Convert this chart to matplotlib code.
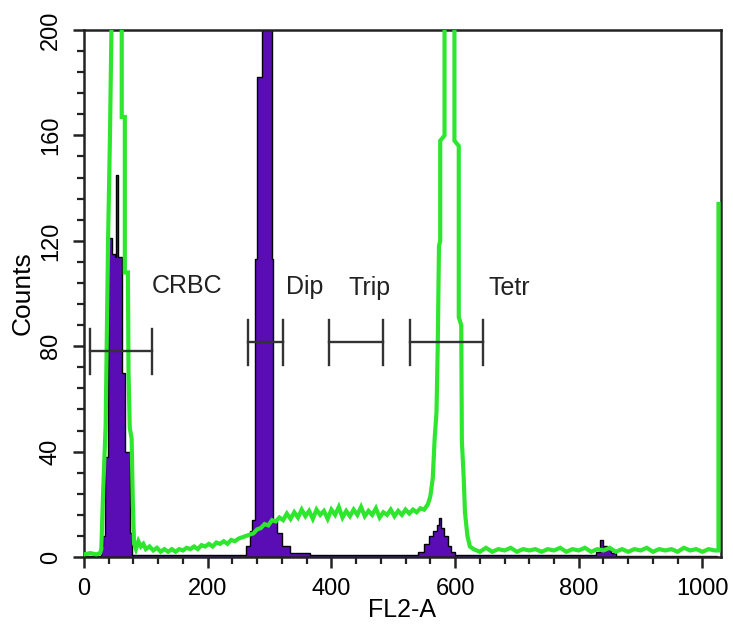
import matplotlib
matplotlib.use("Agg")
import matplotlib.pyplot as plt
from matplotlib.ticker import MultipleLocator

plt.rcParams['font.family'] = ['Liberation Sans', 'DejaVu Sans']

# ---- purple (control) histogram: bin edges and counts ----
purple_edges = [0, 27, 30, 34, 39, 45, 50, 52.5, 54.5, 61, 66, 74, 78,
                262, 268, 272, 276, 280, 288, 303.5, 306, 312, 320, 333, 365,
                540, 550, 558, 564, 570, 574, 577, 582, 588, 594, 600,
                828, 834, 840, 846, 852, 860, 1023]
purple_counts = [0.5, 4, 8, 38, 121, 115, 114, 145, 114, 70, 40, 9, 0.6,
                 4, 10, 14, 113, 182, 240, 113, 14, 9, 4, 1.5, 0.6,
                 2, 5, 8, 10, 12, 15, 11, 8, 4, 2, 0.6,
                 2, 6.5, 4, 3, 1.5, 0.5]

# ---- green (treated) histogram outline ----
green_x = [0, 10, 20, 26, 28, 31, 35, 39, 42, 45, 47, 55, 61, 61, 66, 66, 71, 72, 74, 77, 79, 81,
           84, 88, 92, 96, 100, 106, 112, 118, 124, 130, 136, 142, 148, 154, 160, 166, 172, 178,
           184, 190, 196, 202, 208, 214, 220, 226, 232, 238, 244, 250, 256, 262, 268, 274, 280,
           286, 292, 298, 304, 310, 316, 322, 328, 334, 340, 346, 352, 358, 364, 370, 376, 382,
           388, 394, 400, 406, 412, 418, 424, 430, 436, 442, 448, 454, 460, 466, 472, 478, 484,
           490, 496, 502, 508, 514, 520, 526, 532, 538, 544, 550, 556, 560, 564, 567, 570, 572,
           574, 576, 576, 583, 583, 590, 599, 599, 606, 606, 610, 611, 614, 616, 620, 624, 630,
           640, 650, 660, 670, 680, 690, 700, 710, 720, 730, 740, 750, 760, 770, 780, 790, 800,
           810, 820, 830, 840, 850, 860, 870, 880, 890, 900, 910, 920, 930, 940, 950, 960, 970,
           980, 990, 1000, 1010, 1020, 1026, 1026]
green_y = [1, 1.5, 1, 1.5, 3, 25, 50, 121, 160, 210, 290, 300, 260, 167, 167, 108, 108, 70, 49, 45, 20, 5,
           3, 6, 4, 5, 3, 4, 2.5, 3.5, 2, 3, 2, 3, 2, 3, 2.5, 3.5, 3, 4,
           3, 4.5, 4, 5, 4, 5.5, 5, 6, 5, 6.5, 6, 7, 7.5, 8, 8.5, 9, 10.5,
           11, 12.5, 12, 14, 13.5, 15, 14, 16.5, 14.5, 17, 15, 18, 15.5, 17.5, 14.5, 18, 16,
           17.5, 14.5, 18, 16, 19, 15, 17.5, 15.5, 18, 16, 19, 15.5, 17.5, 16, 18.5, 15, 17,
           16, 18, 15.5, 17.5, 16, 18, 16.5, 18, 17, 18.5, 18, 20, 23, 30, 45, 55, 80,
           118, 120, 158, 160, 230, 300, 260, 158, 156, 91, 88, 44, 30, 17, 8, 4, 3,
           2, 3.5, 2, 3, 2.5, 3.5, 2, 3, 2.5, 3, 2, 3, 2.5, 3.5, 2, 3, 2.5,
           3.5, 2, 3, 2.5, 3.5, 2, 3, 2, 3, 2.5, 3.5, 2, 3, 2.5, 3, 2, 3.5,
           2.5, 3, 2, 3, 2.5, 2.5, 134]

# ---- gate markers ----
gate_names = ["CRBC", "Dip", "Trip", "Tetr"]
gate_lo = [10, 265, 396, 527]
gate_hi = [110, 322, 483, 645]
gate_y = [78, 81.5, 81.5, 81.5]
label_x = [166, 357, 462, 688]
label_y = [103, 102.5, 102, 102]

fig = plt.figure(figsize=(7.33, 6.33), dpi=100)
ax = fig.add_axes([0.1146, 0.120, 0.869, 0.8326])

ax.stairs(purple_counts, purple_edges, fill=True, color='#5a0db4', zorder=2)
ax.stairs(purple_counts, purple_edges, color='black', lw=1.0, zorder=2.5)
ax.plot(green_x, green_y, color='#2ee62e', lw=3.0, zorder=3, solid_joinstyle='miter')

for lo, hi, gy in zip(gate_lo, gate_hi, gate_y):
    ax.plot([lo, hi], [gy, gy], color='#333333', lw=1.7, zorder=4)
    ax.plot([lo, lo], [gy - 8.5, gy + 8.5], color='#333333', lw=1.7, zorder=4)
    ax.plot([hi, hi], [gy - 8.5, gy + 8.5], color='#333333', lw=1.7, zorder=4)
for name, lx, ly in zip(gate_names, label_x, label_y):
    ax.text(lx, ly, name, ha='center', va='center', fontsize=18, color='#222222')

ax.set_xlim(0, 1030)
ax.set_ylim(0, 200)
ax.xaxis.set_major_locator(MultipleLocator(200))
ax.xaxis.set_minor_locator(MultipleLocator(40))
ax.yaxis.set_major_locator(MultipleLocator(40))
ax.yaxis.set_minor_locator(MultipleLocator(8))
ax.tick_params(which='major', direction='out', length=8, width=1.8, labelsize=17, color='#222222')
ax.tick_params(which='minor', direction='out', length=5, width=1.6, color='#222222')
ax.tick_params(axis='x', which='major', pad=7)
ax.tick_params(axis='y', which='major', pad=8, labelrotation=90)
for lab in ax.get_yticklabels():
    lab.set_va('center')
for s in ax.spines.values():
    s.set_linewidth(1.8)
    s.set_color('#222222')

ax.set_xlabel("FL2-A", fontsize=18, labelpad=-1)
ax.set_ylabel("Counts", fontsize=19, labelpad=4)

fig.savefig("out.png", dpi=100)
